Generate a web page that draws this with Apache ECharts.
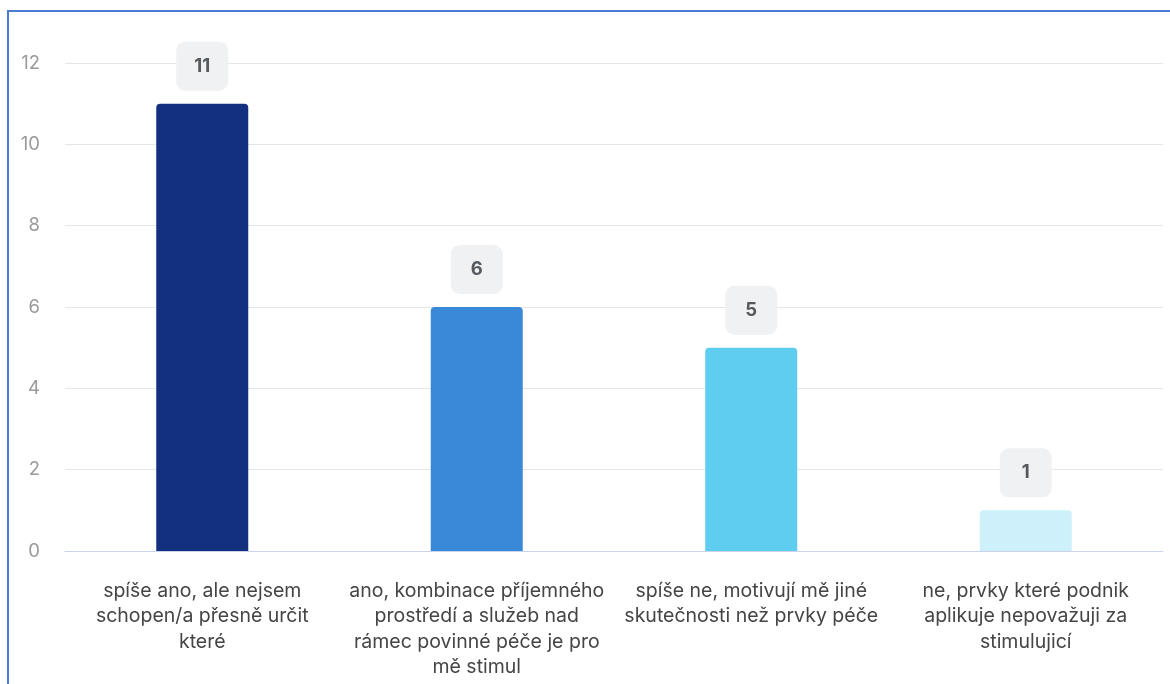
<!DOCTYPE html>
<html><head><meta charset="utf-8">
<script src="https://cdn.jsdelivr.net/npm/echarts@6/dist/echarts.min.js"></script>
<style>
html,body{margin:0;padding:0;background:#fff;}
#c{width:1170px;height:684px;}
#frame{position:absolute;left:7px;top:10px;width:1200px;height:700px;border-left:2px solid #4a7ad2;border-top:2px solid #4a7ad2;pointer-events:none;}
</style></head>
<body>
<div id="c"></div>
<div id="frame"></div>
<script>
const categories = [
  "spíše ano, ale nejsem\nschopen/a přesně určit\nkteré",
  "ano, kombinace příjemného\nprostředí a služeb nad\nrámec povinné péče je pro\nmě stimul",
  "spíše ne, motivují mě jiné\nskutečnosti než prvky péče",
  "ne, prvky které podnik\naplikuje nepovažuji za\nstimulujicí"
];
const values = [11, 6, 5, 1];
const barColors = ["#12307f", "#3a89d8", "#5ecdf0", "#cdf0fa"];
const yTicks = [0, 2, 4, 6, 8, 10, 12];

const chart = echarts.init(document.getElementById('c'));
chart.setOption({
  animation: false,
  textStyle: {fontFamily: 'Inter'},
  grid: {left: 65, right: 7, top: 63, bottom: 133, containLabel: false},
  xAxis: {
    type: 'category',
    data: categories,
    axisLine: {show: true, lineStyle: {color: '#c9d3ea', width: 1}},
    axisTick: {show: false},
    axisLabel: {color: '#454545', fontSize: 19.5, lineHeight: 25.5, margin: 27, interval: 0, fontFamily: 'Inter'}
  },
  yAxis: {
    type: 'value',
    min: yTicks[0], max: yTicks[yTicks.length - 1], interval: 2,
    axisLine: {show: false},
    axisTick: {show: false},
    splitLine: {lineStyle: {color: '#e6e6e6', width: 1}},
    axisLabel: {color: '#9a9a9a', fontSize: 18.5, margin: 25, fontFamily: 'Inter'}
  },
  series: [{
    type: 'bar',
    barWidth: 92,
    data: values.map((v, i) => ({value: v, itemStyle: {color: barColors[i]}})),
    itemStyle: {borderRadius: [4, 4, 0, 0]},
    label: {
      show: true,
      position: 'top',
      distance: 13,
      color: '#555a5e',
      fontWeight: 'bold',
      fontSize: 18.5,
      fontFamily: 'Inter',
      backgroundColor: '#f0f1f2',
      borderRadius: 9,
      width: 52,
      height: 49,
      lineHeight: 49,
      align: 'center',
      padding: 0
    }
  }]
});
</script>
</body></html>
